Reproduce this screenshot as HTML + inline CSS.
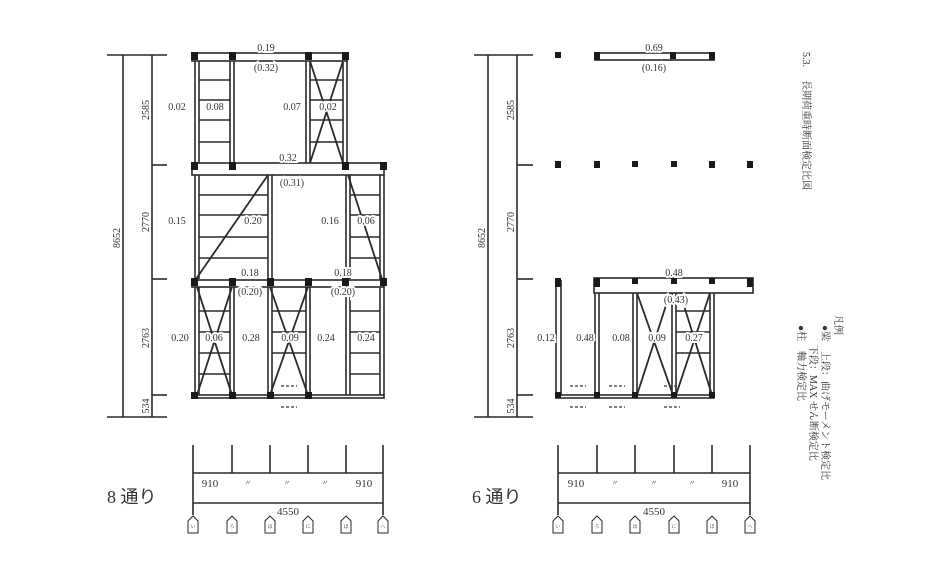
<!DOCTYPE html>
<html><head><meta charset="utf-8"><style>
html,body{margin:0;padding:0;background:#fff;width:926px;height:578px;overflow:hidden}
svg{display:block}
text{font-family:"Liberation Serif","Noto Serif CJK SC",serif;fill:#333}
.l text{paint-order:stroke;stroke:#fff;stroke-width:4px}
.l{font-size:10px}
</style></head><body>
<svg width="926" height="578" viewBox="0 0 926 578" xmlns="http://www.w3.org/2000/svg">
<g stroke="#2a2a2a" stroke-width="1.6" fill="none">
<!-- LEFT dims -->
<line x1="123" y1="55" x2="123" y2="417"/><line x1="152" y1="55" x2="152" y2="417"/>
<line x1="107" y1="55" x2="167" y2="55"/><line x1="152" y1="165" x2="167" y2="165"/>
<line x1="152" y1="279" x2="167" y2="279"/><line x1="152" y1="395" x2="167" y2="395"/>
<line x1="107" y1="417" x2="167" y2="417"/>
<!-- upper storey -->
<rect x="192" y="53" width="155" height="8"/>
<line x1="195" y1="61" x2="195" y2="163"/><line x1="199" y1="61" x2="199" y2="163"/>
<line x1="230" y1="61" x2="230" y2="163"/><line x1="234" y1="61" x2="234" y2="163"/>
<line x1="306" y1="61" x2="306" y2="163"/><line x1="310" y1="61" x2="310" y2="163"/>
<line x1="343" y1="61" x2="343" y2="163"/><line x1="347" y1="61" x2="347" y2="163"/>
<line x1="199" y1="80" x2="230" y2="80"/><line x1="199" y1="100" x2="230" y2="100"/><line x1="199" y1="120" x2="230" y2="120"/><line x1="199" y1="142" x2="230" y2="142"/>
<line x1="310" y1="80" x2="343" y2="80"/><line x1="310" y1="100" x2="343" y2="100"/><line x1="310" y1="120" x2="343" y2="120"/><line x1="310" y1="142" x2="343" y2="142"/>
<line x1="310" y1="61" x2="343" y2="163" stroke-width="1.8"/><line x1="343" y1="61" x2="310" y2="163" stroke-width="1.8"/>
<!-- mid beam -->
<rect x="192" y="163" width="192" height="12"/>
<line x1="195" y1="175" x2="195" y2="279"/><line x1="199" y1="175" x2="199" y2="279"/>
<line x1="268" y1="175" x2="268" y2="279"/><line x1="272" y1="175" x2="272" y2="279"/>
<line x1="346" y1="175" x2="346" y2="279"/><line x1="350" y1="175" x2="350" y2="279"/>
<line x1="380" y1="175" x2="380" y2="279"/><line x1="384" y1="175" x2="384" y2="279"/>
<line x1="199" y1="195" x2="268" y2="195"/><line x1="199" y1="215" x2="268" y2="215"/><line x1="199" y1="237" x2="268" y2="237"/><line x1="199" y1="258" x2="268" y2="258"/>
<line x1="350" y1="195" x2="380" y2="195"/><line x1="350" y1="215" x2="380" y2="215"/><line x1="350" y1="237" x2="380" y2="237"/><line x1="350" y1="258" x2="380" y2="258"/>
<line x1="196" y1="279" x2="268" y2="175" stroke-width="1.8"/><line x1="348" y1="175" x2="382" y2="279" stroke-width="1.8"/>
<!-- lower beam -->
<rect x="192" y="280" width="192" height="7"/>
<line x1="195" y1="287" x2="195" y2="395"/><line x1="199" y1="287" x2="199" y2="395"/>
<line x1="230" y1="287" x2="230" y2="395"/><line x1="234" y1="287" x2="234" y2="395"/>
<line x1="268" y1="287" x2="268" y2="395"/><line x1="272" y1="287" x2="272" y2="395"/>
<line x1="306" y1="287" x2="306" y2="395"/><line x1="310" y1="287" x2="310" y2="395"/>
<line x1="346" y1="287" x2="346" y2="395"/><line x1="350" y1="287" x2="350" y2="395"/>
<line x1="380" y1="287" x2="380" y2="395"/><line x1="384" y1="287" x2="384" y2="395"/>
<line x1="199" y1="311" x2="230" y2="311"/><line x1="199" y1="332" x2="230" y2="332"/><line x1="199" y1="353" x2="230" y2="353"/><line x1="199" y1="374" x2="230" y2="374"/>
<line x1="272" y1="311" x2="306" y2="311"/><line x1="272" y1="332" x2="306" y2="332"/><line x1="272" y1="353" x2="306" y2="353"/>
<line x1="350" y1="311" x2="380" y2="311"/><line x1="350" y1="332" x2="380" y2="332"/><line x1="350" y1="353" x2="380" y2="353"/><line x1="350" y1="374" x2="380" y2="374"/>
<line x1="197" y1="287" x2="232" y2="395" stroke-width="1.8"/><line x1="232" y1="287" x2="197" y2="395" stroke-width="1.8"/>
<line x1="270" y1="287" x2="308" y2="395" stroke-width="1.8"/><line x1="308" y1="287" x2="270" y2="395" stroke-width="1.8"/>
<rect x="192" y="395" width="192" height="3"/>
<!-- bottom axis left -->
<line x1="193" y1="445" x2="193" y2="515"/><line x1="383" y1="445" x2="383" y2="515"/>
<line x1="232" y1="445" x2="232" y2="473"/><line x1="270" y1="445" x2="270" y2="473"/><line x1="308" y1="445" x2="308" y2="473"/><line x1="346" y1="445" x2="346" y2="473"/>
<line x1="193" y1="473" x2="383" y2="473"/><line x1="193" y1="503" x2="383" y2="503"/>

<!-- RIGHT dims -->
<line x1="488" y1="55" x2="488" y2="417"/><line x1="517" y1="55" x2="517" y2="417"/>
<line x1="474" y1="55" x2="533" y2="55"/><line x1="517" y1="165" x2="533" y2="165"/>
<line x1="517" y1="279" x2="533" y2="279"/><line x1="517" y1="395" x2="533" y2="395"/>
<line x1="474" y1="417" x2="533" y2="417"/>
<rect x="595" y="53" width="119" height="7"/>
<rect x="594" y="278" width="159" height="15"/>
<line x1="556" y1="280" x2="556" y2="395"/><line x1="561" y1="280" x2="561" y2="395"/>
<line x1="595" y1="293" x2="595" y2="395"/><line x1="599" y1="293" x2="599" y2="395"/>
<line x1="633" y1="293" x2="633" y2="395"/><line x1="637" y1="293" x2="637" y2="395"/>
<line x1="672" y1="293" x2="672" y2="395"/><line x1="676" y1="293" x2="676" y2="395"/>
<line x1="710" y1="293" x2="710" y2="395"/><line x1="714" y1="293" x2="714" y2="395"/>
<line x1="676" y1="311" x2="710" y2="311"/><line x1="676" y1="332" x2="710" y2="332"/><line x1="676" y1="353" x2="710" y2="353"/>
<line x1="637" y1="293" x2="673" y2="395" stroke-width="1.8"/><line x1="670" y1="293" x2="637" y2="395" stroke-width="1.8"/>
<line x1="680" y1="293" x2="712" y2="395" stroke-width="1.8"/><line x1="710" y1="293" x2="676" y2="395" stroke-width="1.8"/>
<rect x="556" y="395" width="158" height="3"/>
<line x1="558" y1="445" x2="558" y2="515"/><line x1="750" y1="445" x2="750" y2="515"/>
<line x1="597" y1="445" x2="597" y2="473"/><line x1="635" y1="445" x2="635" y2="473"/><line x1="674" y1="445" x2="674" y2="473"/><line x1="712" y1="445" x2="712" y2="473"/>
<line x1="558" y1="473" x2="750" y2="473"/><line x1="558" y1="503" x2="750" y2="503"/>
<!-- tags -->
<g stroke-width="1">
<path d="M188 533V521L193 516L198 521V533Z"/><path d="M227 533V521L232 516L237 521V533Z"/><path d="M265 533V521L270 516L275 521V533Z"/><path d="M303 533V521L308 516L313 521V533Z"/><path d="M341 533V521L346 516L351 521V533Z"/><path d="M378 533V521L383 516L388 521V533Z"/>
<path d="M553 533V521L558 516L563 521V533Z"/><path d="M592 533V521L597 516L602 521V533Z"/><path d="M630 533V521L635 516L640 521V533Z"/><path d="M669 533V521L674 516L679 521V533Z"/><path d="M707 533V521L712 516L717 521V533Z"/><path d="M745 533V521L750 516L755 521V533Z"/>
</g>
</g>
<!-- posts -->
<g fill="#1a1a1a">
<rect x="191" y="52" width="7" height="8"/><rect x="229" y="52" width="7" height="8"/><rect x="305" y="52" width="7" height="8"/><rect x="342" y="52" width="7" height="8"/>
<rect x="191" y="162" width="7" height="8"/><rect x="229" y="162" width="7" height="8"/><rect x="342" y="162" width="7" height="8"/><rect x="380" y="162" width="7" height="8"/>
<rect x="191" y="278" width="7" height="8"/><rect x="229" y="278" width="7" height="8"/><rect x="267" y="278" width="7" height="8"/><rect x="305" y="278" width="7" height="8"/><rect x="342" y="278" width="7" height="8"/><rect x="380" y="278" width="7" height="8"/>
<rect x="191" y="392" width="7" height="7"/><rect x="229" y="392" width="7" height="7"/><rect x="267" y="392" width="7" height="7"/><rect x="305" y="392" width="7" height="7"/>
<rect x="555" y="52" width="6" height="6"/><rect x="594" y="52" width="6" height="8"/><rect x="670" y="52" width="6" height="7"/><rect x="709" y="52" width="6" height="8"/>
<rect x="555" y="161" width="6" height="7"/><rect x="594" y="161" width="6" height="7"/><rect x="632" y="161" width="6" height="6"/><rect x="671" y="161" width="6" height="6"/><rect x="709" y="161" width="6" height="7"/><rect x="747" y="161" width="6" height="7"/>
<rect x="555" y="278" width="6" height="9"/><rect x="594" y="278" width="6" height="9"/><rect x="632" y="278" width="6" height="6"/><rect x="671" y="278" width="6" height="6"/><rect x="709" y="278" width="6" height="6"/><rect x="747" y="278" width="6" height="9"/>
<rect x="555" y="392" width="6" height="6"/><rect x="594" y="392" width="6" height="6"/><rect x="632" y="392" width="6" height="6"/><rect x="671" y="392" width="6" height="6"/><rect x="709" y="392" width="6" height="6"/>
</g>
<!-- dashes -->
<g stroke="#333" stroke-dasharray="3 2" stroke-width="1.2">
<line x1="281" y1="386" x2="297" y2="386"/><line x1="281" y1="407" x2="297" y2="407"/>
<line x1="570" y1="386" x2="586" y2="386"/><line x1="609" y1="386" x2="625" y2="386"/><line x1="664" y1="386" x2="680" y2="386"/>
<line x1="570" y1="407" x2="586" y2="407"/><line x1="609" y1="407" x2="625" y2="407"/><line x1="664" y1="407" x2="680" y2="407"/>
</g>
<g class="l" text-anchor="middle">
<text x="266" y="51">0.19</text>
<text x="266" y="71">(0.32)</text>
<text x="177" y="110">0.02</text><text x="215" y="110">0.08</text><text x="292" y="110">0.07</text><text x="328" y="110">0.02</text>
<text x="288" y="161">0.32</text>
<text x="292" y="186">(0.31)</text>
<text x="177" y="224">0.15</text><text x="253" y="224">0.20</text><text x="330" y="224">0.16</text><text x="366" y="224">0.06</text>
<text x="250" y="276">0.18</text>
<text x="343" y="276">0.18</text>
<text x="250" y="295">(0.20)</text><text x="343" y="295">(0.20)</text>
<text x="180" y="341">0.20</text><text x="214" y="341">0.06</text><text x="251" y="341">0.28</text><text x="290" y="341">0.09</text><text x="326" y="341">0.24</text><text x="366" y="341">0.24</text>
<text x="654" y="51">0.69</text>
<text x="654" y="71">(0.16)</text>
<text x="674" y="276">0.48</text>
<text x="676" y="303">(0.43)</text>
<text x="546" y="341">0.12</text><text x="585" y="341">0.48</text><text x="621" y="341">0.08</text><text x="657" y="341">0.09</text><text x="694" y="341">0.27</text>
<text x="210" y="487" font-size="11">910</text><text x="248" y="485" font-size="7">〃</text><text x="287" y="485" font-size="7">〃</text><text x="325" y="485" font-size="7">〃</text><text x="364" y="487" font-size="11">910</text>
<text x="288" y="515" font-size="11">4550</text>
<text x="576" y="487" font-size="11">910</text><text x="615" y="485" font-size="7">〃</text><text x="654" y="485" font-size="7">〃</text><text x="692" y="485" font-size="7">〃</text><text x="730" y="487" font-size="11">910</text>
<text x="654" y="515" font-size="11">4550</text>
</g>
<g class="l" font-size="11">
<text transform="translate(149,110) rotate(-90)" text-anchor="middle">2585</text>
<text transform="translate(149,222) rotate(-90)" text-anchor="middle">2770</text>
<text transform="translate(149,338) rotate(-90)" text-anchor="middle">2763</text>
<text transform="translate(149,406) rotate(-90)" text-anchor="middle">534</text>
<text transform="translate(120,238) rotate(-90)" text-anchor="middle">8652</text>
<text transform="translate(514,110) rotate(-90)" text-anchor="middle">2585</text>
<text transform="translate(514,222) rotate(-90)" text-anchor="middle">2770</text>
<text transform="translate(514,338) rotate(-90)" text-anchor="middle">2763</text>
<text transform="translate(514,406) rotate(-90)" text-anchor="middle">534</text>
<text transform="translate(485,238) rotate(-90)" text-anchor="middle">8652</text>
</g>
<g font-size="5" text-anchor="middle">
<text x="193" y="528">い</text><text x="232" y="528">ろ</text><text x="270" y="528">は</text><text x="308" y="528">に</text><text x="346" y="528">ほ</text><text x="383" y="528">へ</text>
<text x="558" y="528">い</text><text x="597" y="528">ろ</text><text x="635" y="528">は</text><text x="674" y="528">に</text><text x="712" y="528">ほ</text><text x="750" y="528">へ</text>
</g>
<text x="107" y="503" font-size="18" style="font-family:'Liberation Serif','Noto Sans CJK JP',serif">8 通り</text>
<text x="472" y="503" font-size="18" style="font-family:'Liberation Serif','Noto Sans CJK JP',serif">6 通り</text>
<g font-size="10" style="font-family:'Liberation Sans','Noto Sans CJK JP',sans-serif">
<text transform="translate(803,52) rotate(90)">5.3.</text>
<text transform="translate(803,80) rotate(90)">長期荷重時断面検定比図</text>
<text transform="translate(835,315) rotate(90)">凡例</text>
<text transform="translate(822,325) rotate(90)">●梁　上段：曲げモーメント検定比</text>
<text transform="translate(810,345) rotate(90)">下段：MAX せん断検定比</text>
<text transform="translate(798,325) rotate(90)">●柱　軸力検定比</text>
</g>
</svg>
</body></html>
